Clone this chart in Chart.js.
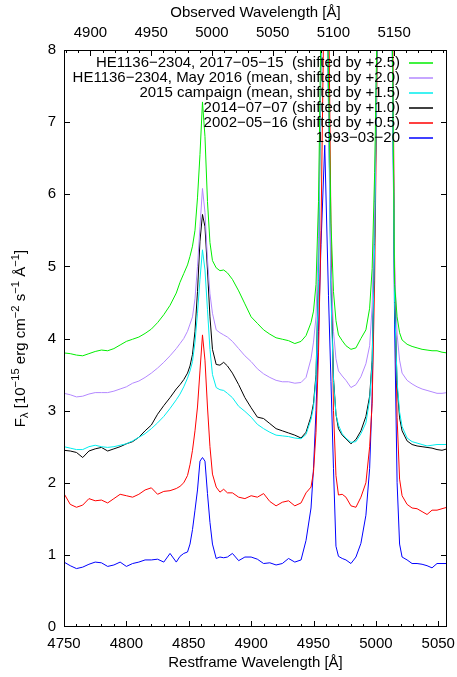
<!DOCTYPE html>
<html lang="en">
<head>
<meta charset="UTF-8">
<title>HE1136-2304 spectra</title>
<script src="https://cdn.jsdelivr.net/npm/chart.js"></script>
<style>
  body { margin: 0; background: #fff; }
  #box { width: 457px; height: 677px; }
</style>
</head>
<body>
<div id="box"><canvas id="spec"></canvas></div>
<script>
// restframe wavelength grid (Å), finer around Hbeta and [OIII]
const wavelength = [
  4750,4755,4760,4765,4770,4775,4780,4785,4790,4795,4800,4805,4810,4815,4820,4825,4830,4835,4840,
  4843,4846,4849,4851,4853,4855,4857,4859,4861,4863,4865,4867,4869,4872,4875,4878,4881,
  4885,4890,4895,4900,4905,4910,4915,4920,4925,4930,4935,4940,4944,
  4948,4950,4952,4954,4956,4959,4962,4964,4966,4968,4970,4973,
  4976,4980,4984,4988,4992,
  4995,4997,4999,5001,5003,5005,5007,5009,5011,5013,5015,5017,5019,5021,
  5025,5029,5033,5037,5041,5045,5049,5053,5057
];

// fluxes as plotted (offsets already included)
const flux2017 = [
  3.80,3.79,3.77,3.76,3.79,3.82,3.84,3.83,3.86,3.91,3.96,3.99,4.02,4.07,4.13,4.22,4.33,4.46,4.63,
  4.78,4.90,5.02,5.14,5.28,5.50,5.95,6.55,7.28,6.80,5.90,5.33,5.08,4.98,4.94,4.95,4.91,
  4.82,4.66,4.48,4.30,4.21,4.12,4.06,4.01,3.99,3.97,3.93,3.96,4.04,
  4.22,4.38,4.75,5.9,8.4,11.0,7.6,5.6,4.65,4.25,4.05,3.97,
  3.90,3.85,3.87,4.00,4.12,
  4.42,4.97,6.3,8.4,15,24,28,26,18,8.6,4.75,4.30,4.08,3.98,
  3.92,3.89,3.87,3.85,3.84,3.83,3.83,3.81,3.80
];
const flux2016 = [
  3.24,3.22,3.19,3.20,3.23,3.25,3.25,3.25,3.27,3.30,3.33,3.38,3.41,3.46,3.52,3.59,3.67,3.76,3.86,
  3.93,4.00,4.10,4.20,4.30,4.55,5.00,5.55,6.08,5.75,5.10,4.62,4.35,4.12,4.08,4.05,4.02,
  3.96,3.86,3.76,3.68,3.58,3.51,3.46,3.42,3.40,3.40,3.38,3.39,3.46,
  3.72,3.95,4.30,5.4,8.2,10.5,7.3,5.0,4.1,3.72,3.55,3.48,
  3.42,3.32,3.36,3.47,3.65,
  3.90,4.45,5.9,8.3,15,23,27,25,17,8.5,5.0,4.06,3.70,3.52,
  3.42,3.37,3.33,3.30,3.28,3.26,3.24,3.24,3.25
];
const flux2015 = [
  2.50,2.48,2.46,2.46,2.50,2.52,2.50,2.49,2.50,2.52,2.54,2.58,2.63,2.68,2.75,2.83,2.92,3.03,3.15,
  3.23,3.33,3.45,3.55,3.68,3.95,4.35,4.82,5.23,4.95,4.40,3.85,3.50,3.32,3.29,3.28,3.24,
  3.18,3.06,2.99,2.91,2.81,2.75,2.70,2.66,2.65,2.64,2.62,2.61,2.67,
  2.88,3.05,3.45,4.8,7.9,10.3,7.2,4.6,3.4,2.95,2.80,2.68,
  2.62,2.56,2.57,2.68,2.83,
  3.15,3.65,5.3,8.2,14,22,26,24,16,8.3,4.5,3.40,2.98,2.78,
  2.62,2.57,2.55,2.53,2.51,2.52,2.53,2.53,2.53
];
const flux2014 = [
  2.45,2.44,2.42,2.35,2.44,2.47,2.49,2.44,2.47,2.50,2.54,2.57,2.63,2.72,2.80,2.95,3.07,3.18,3.30,
  3.36,3.43,3.52,3.62,3.78,4.10,4.65,5.35,5.72,5.55,4.95,4.30,3.85,3.64,3.63,3.67,3.62,
  3.52,3.36,3.18,3.04,2.91,2.89,2.82,2.75,2.72,2.69,2.66,2.62,2.70,
  2.92,3.10,3.50,4.9,8.0,10.6,7.4,4.8,3.45,2.95,2.75,2.66,
  2.61,2.54,2.60,2.72,2.92,
  3.20,3.70,5.4,8.3,14,23,27,25,17,8.5,4.6,3.35,2.90,2.72,
  2.58,2.53,2.51,2.50,2.49,2.48,2.46,2.45,2.47
];
const flux2002 = [
  1.85,1.70,1.66,1.69,1.78,1.75,1.76,1.72,1.78,1.84,1.82,1.80,1.84,1.90,1.93,1.84,1.88,1.89,1.92,
  1.95,2.00,2.10,2.25,2.45,2.72,3.05,3.55,4.05,3.70,3.05,2.50,2.12,1.94,1.87,1.91,1.86,
  1.86,1.80,1.78,1.82,1.80,1.85,1.74,1.68,1.73,1.75,1.68,1.72,1.86,
  1.94,2.15,2.7,3.8,5.5,9.5,9.0,5.5,3.0,2.1,1.83,1.84,
  1.80,1.68,1.66,1.80,2.00,
  2.50,3.10,4.8,7.8,13,21,26,25,18,9.5,5.0,2.9,2.05,1.82,
  1.70,1.65,1.64,1.60,1.56,1.62,1.62,1.64,1.66
];
const flux1993 = [
  0.90,0.85,0.81,0.83,0.87,0.90,0.89,0.84,0.86,0.90,0.84,0.88,0.90,0.93,0.93,0.94,0.90,1.02,0.90,
  0.98,1.02,1.04,1.15,1.35,1.62,1.90,2.30,2.35,2.30,1.85,1.45,1.15,0.95,0.97,0.96,0.97,
  1.02,0.92,0.97,0.97,0.94,0.88,0.89,0.86,0.88,0.95,0.90,0.93,1.20,
  1.65,2.20,3.0,4.1,5.3,6.68,4.6,3.4,2.2,1.12,0.98,0.95,
  0.93,0.88,0.97,1.16,1.55,
  2.20,3.2,5.5,8.5,15,24,28,26,18,8.4,4.2,2.0,1.15,0.97,
  0.93,0.88,0.88,0.87,0.85,0.82,0.88,0.88,0.88
];

const seriesLabels = [
  'HE1136\u22122304, 2017\u221205\u221215  (shifted by +2.5)',
  'HE1136\u22122304, May 2016 (mean, shifted by +2.0)',
  '2015 campaign (mean, shifted by +1.5)',
  '2014\u221207\u221207 (shifted by +1.0)',
  '2002\u221205\u221216 (shifted by +0.5)',
  '1993\u221203\u221220'
];
const seriesFlux = [flux2017, flux2016, flux2015, flux2014, flux2002, flux1993];
const seriesColors = ['#00ee00', '#b388ff', '#00eeee', '#000000', '#ff0000', '#0000ff'];

const redshift = 0.027;
const restMin = 4750, restMax = 5057;
const FONT = 'Liberation Sans, Arial, sans-serif';
const fontSize = 15;

const datasets = seriesLabels.map((label, i) => ({
  label: label,
  data: wavelength.map((w, k) => ({ x: w, y: seriesFlux[i][k] })),
  borderColor: seriesColors[i],
  borderWidth: 1,
  pointRadius: 0,
  tension: 0,
  fill: false
}));

// inward ticks + frame like gnuplot
const frameTicks = {
  id: 'frameTicks',
  afterDatasetsDraw(chart) {
    const { ctx, chartArea: a, scales } = chart;
    ctx.save();
    ctx.strokeStyle = '#000';
    ctx.lineWidth = 1;
    ctx.beginPath();
    for (let w = restMin; w <= restMax; w += 10) {
      const px = Math.round(scales.x.getPixelForValue(w)) + 0.5;
      const len = w % 50 === 0 ? 6 : 3;
      ctx.moveTo(px, a.bottom);
      ctx.lineTo(px, a.bottom - len);
    }
    for (let w = 4880; w <= scales.x2.max; w += 10) {
      const px = Math.round(scales.x2.getPixelForValue(w)) + 0.5;
      const len = w % 50 === 0 ? 6 : 3;
      ctx.moveTo(px, a.top);
      ctx.lineTo(px, a.top + len);
    }
    for (let f = 1; f < 8; f++) {
      const py = Math.round(scales.y.getPixelForValue(f)) + 0.5;
      ctx.moveTo(a.left, py); ctx.lineTo(a.left + 6, py);
      ctx.moveTo(a.right, py); ctx.lineTo(a.right - 6, py);
    }
    ctx.stroke();
    ctx.strokeRect(a.left + 0.5, a.top + 0.5, a.right - a.left - 1, a.bottom - a.top - 1);
    ctx.restore();
  }
};

// gnuplot style key: text right aligned, sample line on the right
const keyBox = {
  id: 'keyBox',
  afterDraw(chart) {
    const { ctx } = chart;
    ctx.save();
    ctx.font = fontSize + 'px ' + FONT;
    ctx.textAlign = 'right';
    ctx.textBaseline = 'middle';
    chart.data.datasets.forEach((ds, i) => {
      const y = 62.5 + i * 15;
      ctx.fillStyle = '#000';
      ctx.fillText(ds.label, 400, y);
      ctx.strokeStyle = ds.borderColor;
      ctx.lineWidth = 1.5;
      ctx.beginPath();
      ctx.moveTo(409, Math.round(y));
      ctx.lineTo(433, Math.round(y));
      ctx.stroke();
    });
    ctx.restore();
  }
};

// y title with sub/superscripts
const yTitle = {
  id: 'yTitle',
  afterDraw(chart) {
    const { ctx, chartArea: a } = chart;
    const parts = [
      ['F', 0, 1], ['\u03bb', 1, 0.75], [' [10', 0, 1], ['\u221215', -1, 0.75],
      [' erg cm', 0, 1], ['\u22122', -1, 0.75], [' s', 0, 1], ['\u22121', -1, 0.75],
      [' \u00c5', 0, 1], ['\u22121', -1, 0.75], [']', 0, 1]
    ];
    ctx.save();
    let total = 0;
    parts.forEach(p => {
      ctx.font = (fontSize * p[2]) + 'px ' + FONT;
      total += ctx.measureText(p[0]).width;
    });
    ctx.translate(24.5, (a.top + a.bottom) / 2);
    ctx.rotate(-Math.PI / 2);
    ctx.fillStyle = '#000';
    ctx.textBaseline = 'alphabetic';
    let x = -total / 2;
    parts.forEach(p => {
      ctx.font = (fontSize * p[2]) + 'px ' + FONT;
      const dy = p[1] === -1 ? -6 : (p[1] === 1 ? 3 : 0);
      ctx.fillText(p[0], x, dy);
      x += ctx.measureText(p[0]).width;
    });
    ctx.restore();
  }
};

const tickFont = { family: FONT, size: fontSize };
const plainNumber = v => String(v);
const noSidePadding = s => { s.height = 50; s.paddingLeft = 0; s.paddingRight = 0; };

new Chart(document.getElementById('spec'), {
  type: 'line',
  data: { datasets: datasets },
  options: {
    responsive: true,
    maintainAspectRatio: false,
    animation: false,
    devicePixelRatio: 1,
    layout: { padding: { left: 0, right: 10, top: 0, bottom: 0 } },
    plugins: { legend: { display: false }, tooltip: { enabled: false } },
    scales: {
      x: {
        type: 'linear', position: 'bottom', min: restMin, max: restMax,
        grid: { display: false, drawTicks: false }, border: { display: false },
        ticks: { stepSize: 50, includeBounds: false, font: tickFont, color: '#000', padding: 8, maxRotation: 0, autoSkip: false, callback: plainNumber },
        title: { display: true, text: 'Restframe Wavelength [\u00c5]', font: tickFont, color: '#000', padding: { top: 0, bottom: 5 } },
        afterFit: noSidePadding
      },
      x2: {
        type: 'linear', position: 'top', min: restMin * (1 + redshift), max: restMax * (1 + redshift),
        grid: { display: false, drawTicks: false }, border: { display: false },
        ticks: { stepSize: 50, includeBounds: false, font: tickFont, color: '#000', padding: 8, maxRotation: 0, autoSkip: false, callback: plainNumber },
        title: { display: true, text: 'Observed Wavelength [\u00c5]', font: tickFont, color: '#000', padding: { top: 4, bottom: 0 } },
        afterFit: noSidePadding
      },
      y: {
        min: 0, max: 8,
        grid: { display: false, drawTicks: false }, border: { display: false },
        ticks: { stepSize: 1, font: tickFont, color: '#000', padding: 8 },
        afterFit: s => { s.width = 64; }
      }
    }
  },
  plugins: [frameTicks, keyBox, yTitle]
});
</script>
</body>
</html>
